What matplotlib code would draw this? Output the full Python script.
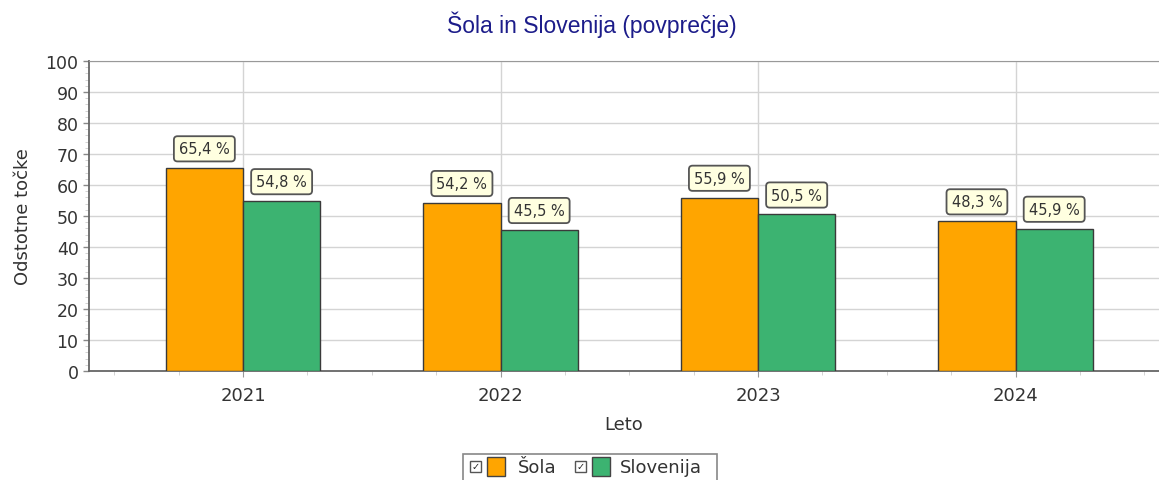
import matplotlib
matplotlib.use("Agg")
import matplotlib.pyplot as plt
import numpy as np
from matplotlib.patches import Rectangle
from matplotlib.ticker import MultipleLocator
from matplotlib import font_manager

years = ["2021", "2022", "2023", "2024"]
sola = [65.4, 54.2, 55.9, 48.3]
slovenija = [54.8, 45.5, 50.5, 45.9]
series_names = ["Šola", "Slovenija"]
colors = ["#FFA500", "#3CB371"]

W, H = 1159, 481
fig = plt.figure(figsize=(W / 100, H / 100), dpi=100)
ax = fig.add_axes([89 / W, 1 - 372 / H, 1 - 89 / W, (372 - 62) / H])

x = np.arange(len(years))
bw = 0.3
for i, vals in enumerate([sola, slovenija]):
    pos = x + (i - 0.5) * bw
    ax.bar(pos, vals, width=bw, color=colors[i], edgecolor="#3a3a3a",
           linewidth=1.0, zorder=3)
    for px_, v in zip(pos, vals):
        ax.annotate(f"{v:.1f} %".replace(".", ","), (px_, v),
                    xytext=(0, 14), textcoords="offset points",
                    ha="center", va="center", fontsize=10.5, color="#333333",
                    family="DejaVu Sans",
                    bbox=dict(boxstyle="round,pad=0.35,rounding_size=0.25",
                              fc="#FFFFE0", ec="#555555", lw=1.3), zorder=5)

ax.set_xlim(-0.598, 3.557)
ax.set_ylim(0, 100)
ax.set_xticks(x)
ax.set_xticklabels(years, fontsize=13, color="#333333")
ax.xaxis.set_minor_locator(MultipleLocator(0.25))
ax.yaxis.set_major_locator(MultipleLocator(10))
ax.yaxis.set_minor_locator(MultipleLocator(2))
ax.tick_params(axis="y", labelsize=12.5, colors="#333333", length=4,
               width=1, color="#888888")
ax.tick_params(axis="x", length=4, color="#999999", pad=7)
ax.tick_params(which="minor", length=3, color="#cccccc")
ax.grid(True, which="major", color="#d4d4d4", lw=1, zorder=0)
ax.set_axisbelow(True)
ax.spines["top"].set_color("#999999")
ax.spines["right"].set_visible(False)
ax.spines["left"].set_color("#666666")
ax.spines["left"].set_linewidth(1.3)
ax.spines["bottom"].set_color("#666666")
ax.spines["bottom"].set_linewidth(1.3)

ax.set_ylabel("Odstotne točke", fontsize=13, color="#333333", labelpad=10)
ax.set_xlabel("Leto", fontsize=13, color="#333333", labelpad=8)

title_font = font_manager.FontProperties(family="Liberation Sans",
                                         stretch="normal", size=16.5)
fig.text(592 / W, 1 - 25 / H, "Šola in Slovenija (povprečje)", ha="center",
         va="center", fontproperties=title_font, color="#1c1c8a")

# legend
fig.add_artist(Rectangle((463 / W, 1 - 490 / H), (717 - 463) / W, 35 / H,
                         transform=fig.transFigure, fc="white", ec="#888888",
                         lw=1.2))
lx = [470, 575]
tx = [518, 620]
for i, name in enumerate(series_names):
    fig.add_artist(Rectangle((lx[i] / W, 1 - 473 / H), 11 / W, 11 / H,
                             transform=fig.transFigure, fc="white",
                             ec="#555555", lw=1))
    fig.text((lx[i] + 5.5) / W, 1 - 467.5 / H, "✓", ha="center", va="center",
             fontsize=7, color="#222222", family="DejaVu Sans")
    fig.add_artist(Rectangle(((lx[i] + 17) / W, 1 - 477 / H), 18 / W, 19 / H,
                             transform=fig.transFigure, fc=colors[i],
                             ec="#444444", lw=1))
    fig.text(tx[i] / W, 1 - 468 / H, name, ha="left", va="center",
             fontsize=13, color="#333333")

fig.savefig("out.png", dpi=100)
